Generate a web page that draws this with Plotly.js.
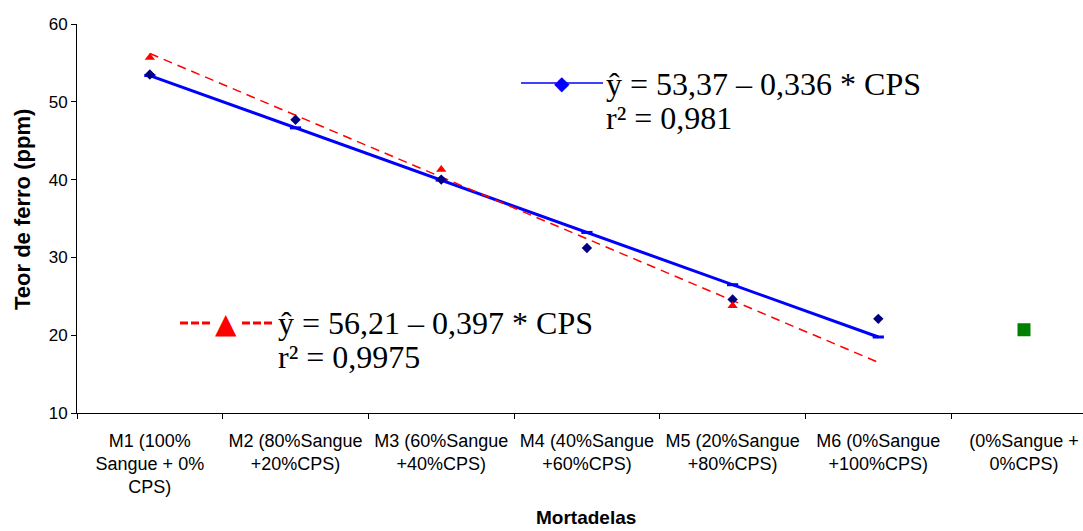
<!DOCTYPE html>
<html>
<head>
<meta charset="utf-8">
<script src="https://cdn.plot.ly/plotly-3.0.1.min.js"></script>
<style>html,body{margin:0;padding:0;background:#fff;}#chart{width:1083px;height:531px;}</style>
</head>
<body>
<div id="chart"></div>
<script>
// ---- data ----
var categories = [
  'M1 (100%<br>Sangue + 0%<br>CPS)',
  'M2 (80%Sangue<br>+20%CPS)',
  'M3 (60%Sangue<br>+40%CPS)',
  'M4 (40%Sangue<br>+60%CPS)',
  'M5 (20%Sangue<br>+80%CPS)',
  'M6 (0%Sangue<br>+100%CPS)',
  '(0%Sangue +<br>0%CPS)'
];
var mortadelasCPS = categories.slice(0, 6);
var ferroLosango = [53.5, 47.7, 40.0, 31.2, 24.6, 22.1];
var ajusteAzul = [53.37, 46.65, 39.93, 33.21, 26.49, 19.77];
var categoriasTriangulo = [categories[0], categories[2], categories[4]];
var ferroTriangulo = [55.7, 41.3, 23.8];
var ajusteVermelho = [56.21, 48.27, 40.33, 32.39, 24.45, 16.51];
var categoriaControle = [categories[6]];
var ferroControle = [20.7];
var yTicks = [10, 20, 30, 40, 50, 60];
var eqAzul = ['ŷ = 53,37 – 0,336 * CPS', 'r² = 0,981'];
var eqVermelho = ['ŷ = 56,21 – 0,397 * CPS', 'r² = 0,9975'];
var tituloX = 'Mortadelas';
var tituloY = 'Teor de ferro (ppm)';

// ---- helpers: pixel -> paper ----
var L = 77, R = 1083, T = 24, B = 413;
function px(x) { return (x - L) / (R - L); }
function py(y) { return (B - y) / (B - T); }

var sans = 'Liberation Sans, Arial, sans-serif';
var serif = 'Liberation Serif, Times New Roman, serif';

var traces = [
  { x: mortadelasCPS, y: ajusteAzul, type: 'scatter', mode: 'lines+markers',
    line: { color: '#0000FF', width: 3 },
    marker: { symbol: 'line-ew', size: 8, line: { color: '#0000FF', width: 3 } },
    hoverinfo: 'skip', showlegend: false },
  { x: mortadelasCPS, y: ajusteVermelho, type: 'scatter', mode: 'lines',
    line: { color: '#FF0000', width: 1.5, dash: '9px,6px' },
    hoverinfo: 'skip', showlegend: false },
  { x: mortadelasCPS, y: ferroLosango, type: 'scatter', mode: 'markers',
    marker: { symbol: 'diamond', size: 8, color: '#000080' }, showlegend: false },
  { x: categoriasTriangulo, y: ferroTriangulo, type: 'scatter', mode: 'markers',
    marker: { symbol: 'triangle-up', size: 9, color: '#FF0000' }, showlegend: false },
  { x: categoriaControle, y: ferroControle, type: 'scatter', mode: 'markers',
    marker: { symbol: 'square', size: 13, color: '#008000' }, showlegend: false }
];

var layout = {
  width: 1083, height: 531,
  margin: { l: L, r: 1083 - R, t: T, b: 531 - B, pad: 0 },
  paper_bgcolor: '#ffffff', plot_bgcolor: '#ffffff',
  font: { family: sans, size: 16, color: '#000000' },
  showlegend: false,
  xaxis: {
    type: 'category', categoryorder: 'array', categoryarray: categories,
    range: [-0.5, 6.405], tickson: 'boundaries',
    showline: true, linecolor: '#000000', linewidth: 1,
    ticks: 'outside', ticklen: 5, tickcolor: '#000000',
    showgrid: false, zeroline: false, ticklabelstandoff: 11,
    tickfont: { family: sans, size: 18, color: '#000000' }
  },
  yaxis: {
    range: [10, 60], tickvals: yTicks,
    showline: true, linecolor: '#000000', linewidth: 1,
    ticks: 'outside', ticklen: 5, tickcolor: '#000000',
    showgrid: false, zeroline: false,
    tickfont: { family: sans, size: 17, color: '#000000' }
  },
  shapes: [
    { type: 'line', xref: 'paper', yref: 'paper', x0: px(521), x1: px(603), y0: py(83), y1: py(83),
      line: { color: '#0000FF', width: 1.5 } },
    { type: 'line', xref: 'paper', yref: 'paper', x0: px(180), x1: px(211), y0: py(323), y1: py(323),
      line: { color: '#FF0000', width: 3, dash: '8px,3px' } },
    { type: 'line', xref: 'paper', yref: 'paper', x0: px(242), x1: px(273), y0: py(323), y1: py(323),
      line: { color: '#FF0000', width: 3, dash: '8px,3px' } }
  ],
  annotations: [
    { xref: 'paper', yref: 'paper', x: px(586), y: py(517), text: '<b>' + tituloX + '</b>', showarrow: false,
      xanchor: 'center', yanchor: 'middle', font: { family: sans, size: 19, color: '#000000' } },
    { xref: 'paper', yref: 'paper', x: px(23), y: py(210), text: '<b>' + tituloY + '</b>', showarrow: false,
      textangle: -90, xanchor: 'center', yanchor: 'middle', font: { family: sans, size: 22, color: '#000000' } },
    { xref: 'paper', yref: 'paper', x: px(562), y: py(83), text: '◆', showarrow: false,
      xanchor: 'center', yanchor: 'middle', font: { family: 'DejaVu Sans', size: 20, color: '#0000FF' } },
    { xref: 'paper', yref: 'paper', x: px(226), y: py(323), text: '▲', showarrow: false,
      xanchor: 'center', yanchor: 'middle', font: { family: 'DejaVu Sans', size: 28, color: '#FF0000' } },
    { xref: 'paper', yref: 'paper', x: px(604), y: py(84), text: eqAzul[0], showarrow: false,
      xanchor: 'left', yanchor: 'middle', font: { family: serif, size: 32, color: '#000000' } },
    { xref: 'paper', yref: 'paper', x: px(604), y: py(118), text: eqAzul[1], showarrow: false,
      xanchor: 'left', yanchor: 'middle', font: { family: serif, size: 32, color: '#000000' } },
    { xref: 'paper', yref: 'paper', x: px(276), y: py(323), text: eqVermelho[0], showarrow: false,
      xanchor: 'left', yanchor: 'middle', font: { family: serif, size: 32, color: '#000000' } },
    { xref: 'paper', yref: 'paper', x: px(276), y: py(357), text: eqVermelho[1], showarrow: false,
      xanchor: 'left', yanchor: 'middle', font: { family: serif, size: 32, color: '#000000' } }
  ]
};

Plotly.newPlot('chart', traces, layout, { displayModeBar: false, staticPlot: true });
</script>
</body>
</html>
